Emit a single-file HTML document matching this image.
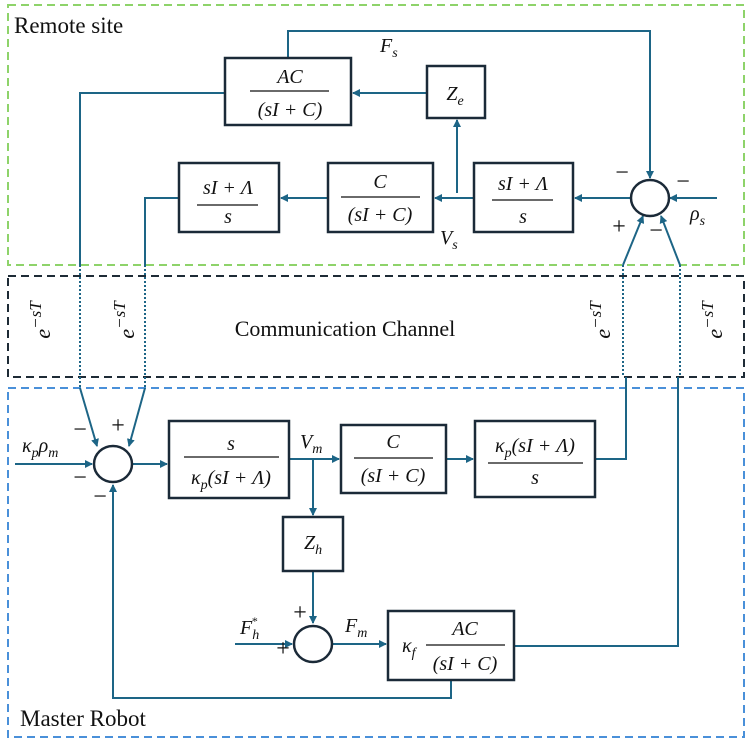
<!DOCTYPE html>
<html><head><meta charset="utf-8"><style>
body{margin:0;background:#fff}
svg{display:block}
text{font-family:"Liberation Serif",serif;fill:#111}
.i{font-style:italic}
</style></head><body>
<svg width="748" height="740" viewBox="0 0 748 740" xmlns="http://www.w3.org/2000/svg">
<defs><marker id="a" markerWidth="8" markerHeight="8" refX="7" refY="4" orient="auto" markerUnits="userSpaceOnUse"><path d="M0,0 L8,4 L0,8 z" fill="#1d6586"/></marker></defs>
<rect x="8" y="5" width="736" height="260" fill="none" stroke="#8ed36a" stroke-width="2" stroke-dasharray="8,5"/>
<rect x="8" y="276" width="736" height="101" fill="none" stroke="#1e2b36" stroke-width="2" stroke-dasharray="8,5"/>
<rect x="8" y="388" width="736" height="349" fill="none" stroke="#4a90d9" stroke-width="2" stroke-dasharray="8,5"/>
<text x="14" y="33" font-size="23">Remote site</text>
<text x="20" y="726" font-size="23">Master Robot</text>
<text x="345" y="336" font-size="22" text-anchor="middle">Communication Channel</text>
<g font-size="22" class="i">
<text transform="translate(50,320) rotate(-90)" text-anchor="middle" class="i">e<tspan dy="-9" font-size="17">−sT</tspan></text>
<text transform="translate(134,320) rotate(-90)" text-anchor="middle" class="i">e<tspan dy="-9" font-size="17">−sT</tspan></text>
<text transform="translate(610,320) rotate(-90)" text-anchor="middle" class="i">e<tspan dy="-9" font-size="17">−sT</tspan></text>
<text transform="translate(722,320) rotate(-90)" text-anchor="middle" class="i">e<tspan dy="-9" font-size="17">−sT</tspan></text>
</g>
<g fill="none" stroke="#1d6586" stroke-width="2">
<path d="M288,58 V31 H650 V178" marker-end="url(#a)"/>
<path d="M717,198 H670" marker-end="url(#a)"/>
<path d="M631,198 H575" marker-end="url(#a)"/>
<path d="M474,198 H435" marker-end="url(#a)"/>
<path d="M328,198 H281" marker-end="url(#a)"/>
<path d="M457,193 V120" marker-end="url(#a)"/>
<path d="M427,93 H353" marker-end="url(#a)"/>
<path d="M225,93 H80 V265"/>
<path d="M179,198 H145 V265"/>
<path d="M623,265 L643,216" marker-end="url(#a)"/>
<path d="M680,265 L661,216" marker-end="url(#a)"/>
<path d="M80,265 V388 M145,265 V388 M623,265 V377 M680,265 V377" stroke-dasharray="2,2"/>
<path d="M80,388 L97,446" marker-end="url(#a)"/>
<path d="M145,388 L129,446" marker-end="url(#a)"/>
<path d="M15,464 H92" marker-end="url(#a)"/>
<path d="M132,464 H167" marker-end="url(#a)"/>
<path d="M289,459 H339" marker-end="url(#a)"/>
<path d="M446,459 H473" marker-end="url(#a)"/>
<path d="M595,459 H626 V377"/>
<path d="M313,459 V515" marker-end="url(#a)"/>
<path d="M313,571 V623" marker-end="url(#a)"/>
<path d="M235,644 H292" marker-end="url(#a)"/>
<path d="M332,644 H386" marker-end="url(#a)"/>
<path d="M514,646 H678 V377"/>
<path d="M451,680 V698 H113 V485" marker-end="url(#a)"/>
</g>
<g fill="#fff" stroke="#1b2a38" stroke-width="2.5">
<rect x="225" y="58" width="126" height="67"/>
<rect x="427" y="66" width="58" height="52"/>
<rect x="179" y="163" width="100" height="69"/>
<rect x="328" y="163" width="105" height="69"/>
<rect x="474" y="163" width="99" height="69"/>
<ellipse cx="650" cy="198" rx="19" ry="18"/>
<ellipse cx="113" cy="464" rx="19" ry="18"/>
<rect x="169" y="421" width="120" height="77"/>
<rect x="341" y="425" width="105" height="68"/>
<rect x="475" y="421" width="120" height="76"/>
<rect x="283" y="517" width="60" height="54"/>
<ellipse cx="313" cy="644" rx="19" ry="18"/>
<rect x="388" y="611" width="126" height="69"/>
</g>
<g stroke="#111" stroke-width="1.3">
<line x1="250" y1="91" x2="329" y2="91"/>
<line x1="197" y1="205" x2="258" y2="205"/>
<line x1="341" y1="197" x2="420" y2="197"/>
<line x1="492" y1="200" x2="553" y2="200"/>
<line x1="184" y1="457" x2="279" y2="457"/>
<line x1="354" y1="458" x2="433" y2="458"/>
<line x1="488" y1="463" x2="583" y2="463"/>
<line x1="426" y1="645" x2="505" y2="645"/>
</g>
<g class="i" font-size="20" text-anchor="middle">
<text x="290" y="83" class="i">AC</text>
<text x="290" y="116" class="i">(sI + C)</text>
<text x="455" y="100" class="i">Z<tspan font-size="14" dy="5">e</tspan></text>
<text x="228" y="194" class="i">sI + Λ</text>
<text x="228" y="223" class="i">s</text>
<text x="380" y="188" class="i">C</text>
<text x="380" y="221" class="i">(sI + C)</text>
<text x="523" y="190" class="i">sI + Λ</text>
<text x="523" y="223" class="i">s</text>
<text x="231" y="450" class="i">s</text>
<text x="231" y="484" class="i">κ<tspan font-size="14" dy="5">p</tspan><tspan dy="-5">(sI + Λ)</tspan></text>
<text x="393" y="448" class="i">C</text>
<text x="393" y="482" class="i">(sI + C)</text>
<text x="535" y="452" class="i">κ<tspan font-size="14" dy="5">p</tspan><tspan dy="-5">(sI + Λ)</tspan></text>
<text x="535" y="484" class="i">s</text>
<text x="313" y="549" class="i">Z<tspan font-size="14" dy="5">h</tspan></text>
<text x="465" y="635" class="i">AC</text>
<text x="465" y="670" class="i">(sI + C)</text>
</g>
<g class="i" font-size="20">
<text x="402" y="652" class="i">κ<tspan font-size="14" dy="5">f</tspan></text>
<text x="380" y="52" class="i">F<tspan font-size="14" dy="5">s</tspan></text>
<text x="440" y="244" class="i">V<tspan font-size="14" dy="5">s</tspan></text>
<text x="690" y="220" class="i">ρ<tspan font-size="14" dy="5">s</tspan></text>
<text x="300" y="448" class="i">V<tspan font-size="14" dy="5">m</tspan></text>
<text x="345" y="632" class="i">F<tspan font-size="14" dy="5">m</tspan></text>
<text x="240" y="634" class="i">F<tspan font-size="14" dy="5">h</tspan><tspan font-size="12" dx="-8" dy="-14">*</tspan></text>
<text x="22" y="452" class="i">κ<tspan font-size="14" dy="5">p</tspan><tspan dy="-5">ρ</tspan><tspan font-size="14" dy="5">m</tspan></text>
</g>
<g font-size="24" text-anchor="middle">
<text x="622" y="180">−</text><text x="683" y="189">−</text>
<text x="619" y="234">+</text><text x="656" y="238">−</text>
<text x="80" y="437">−</text><text x="118" y="433">+</text>
<text x="80" y="485">−</text><text x="100" y="504">−</text>
<text x="283" y="656">+</text><text x="300" y="620">+</text>
</g>
</svg>
</body></html>
